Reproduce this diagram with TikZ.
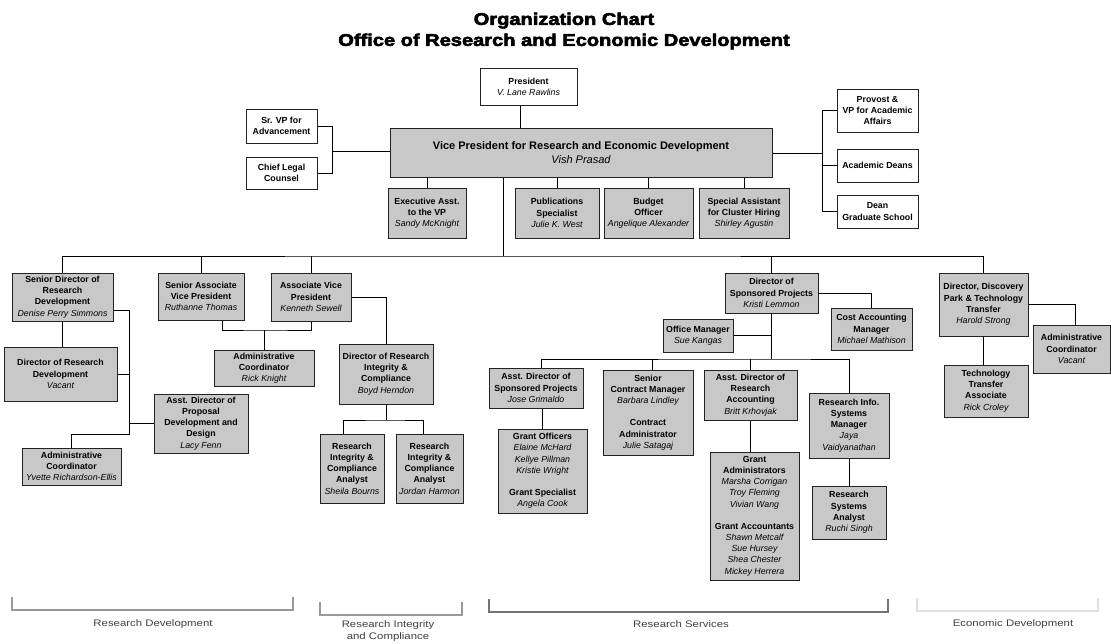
\documentclass[tikz,border=0pt]{standalone}
\usepackage{fontspec}
\setmainfont{Liberation Sans}
\newfontfamily\titlefont{Liberation Sans}[BoldFeatures={FakeBold=3}]
\usetikzlibrary{calc}
\definecolor{boxgray}{RGB}{200,200,200}
\definecolor{edgec}{RGB}{35,35,35}
\newcommand\pname[1]{{\mdseries\itshape #1}}
\newcommand\orgbox[7]{\node[#2, minimum width={(#5-#3)*1pt}, minimum height={(#6-#4)*1pt}] (#1) at ({(#3+#5)/2},{(#4+#6)/2}) {#7};}
\begin{document}
\begin{tikzpicture}[x=1pt,y=-1pt,
  base/.style={draw=edgec, line width=1pt, align=center, inner sep=1pt,
    font=\fontsize{8.8}{11.2}\selectfont\bfseries},
  gbox/.style={base, fill=boxgray},
  wbox/.style={base, fill=white},
  link/.style={line width=0.9pt, draw=black},
  brk/.style={line width=1.8pt, draw=#1},
  lbl/.style={font=\fontsize{9.5}{12}\selectfont, text=black!75, align=center}
]
\useasboundingbox[fill=white] (0,0) rectangle (1111,643);

% title
\node[align=center, font=\titlefont\bfseries\fontsize{17}{21}\selectfont] (title) at (564,31)
  {\scalebox{1.18}[1]{Organization Chart}\\\scalebox{1.18}[1]{Office of Research and Economic Development}};

% top level
\orgbox{pres}{wbox}{480}{68}{577}{105}{President\\\pname{V. Lane Rawlins}}
\node[gbox, font=\fontsize{11}{13.5}\selectfont\bfseries, minimum width=382pt, minimum height=49pt] (vp) at (581,152.5)
  {Vice President for Research and Economic Development\\\pname{Vish Prasad}};
\orgbox{srvp}{wbox}{246}{109}{317}{143}{Sr. VP for\\Advancement}
\orgbox{legal}{wbox}{246}{157}{317}{189}{Chief Legal\\Counsel}
\orgbox{provost}{wbox}{837}{89}{918}{132}{Provost \&\\VP for Academic\\Affairs}
\orgbox{deans}{wbox}{837}{149}{918}{182}{Academic Deans}
\orgbox{gdean}{wbox}{837}{195}{918}{228}{Dean\\Graduate School}
\orgbox{exec}{gbox}{388}{188}{466}{238}{Executive Asst.\\to the VP\\\pname{Sandy McKnight}}
\orgbox{pub}{gbox}{515}{188}{599}{238}{Publications\\Specialist\\\pname{Julie K. West}}
\orgbox{budget}{gbox}{604}{188}{693}{238}{Budget\\Officer\\\pname{Angelique Alexander}}
\orgbox{special}{gbox}{699}{188}{789}{238}{Special Assistant\\for Cluster Hiring\\\pname{Shirley Agustin}}

% research development
\orgbox{sdrd}{gbox}{12}{273}{113}{321}{Senior Director of\\Research\\Development\\\pname{Denise Perry Simmons}}
\orgbox{drd}{gbox}{4}{347}{117}{401}{Director of Research\\Development\\\pname{Vacant}}
\orgbox{adpd}{gbox}{154}{394}{248}{453}{Asst. Director of\\Proposal\\Development and\\Design\\\pname{Lacy Fenn}}
\orgbox{yvette}{gbox}{22}{448}{121}{485}{Administrative\\Coordinator\\\pname{Yvette Richardson-Ellis}}

% research integrity
\orgbox{sav}{gbox}{158}{273}{244}{320}{Senior Associate\\Vice President\\\pname{Ruthanne Thomas}}
\orgbox{avp}{gbox}{271}{273}{351}{321}{Associate Vice\\President\\\pname{Kenneth Sewell}}
\orgbox{rick}{gbox}{214}{350}{314}{386}{Administrative\\Coordinator\\\pname{Rick Knight}}
\orgbox{dric}{gbox}{339}{344}{433}{404}{Director of Research\\Integrity \&\\Compliance\\\pname{Boyd Herndon}}
\orgbox{sheila}{gbox}{320}{434}{384}{503}{Research\\Integrity \&\\Compliance\\Analyst\\\pname{Sheila Bourns}}
\orgbox{jordan}{gbox}{396}{434}{463}{503}{Research\\Integrity \&\\Compliance\\Analyst\\\pname{Jordan Harmon}}

% research services
\orgbox{dsp}{gbox}{725}{273}{818}{313}{Director of\\Sponsored Projects\\\pname{Kristi Lemmon}}
\orgbox{cam}{gbox}{831}{308}{912}{350}{Cost Accounting\\Manager\\\pname{Michael Mathison}}
\orgbox{om}{gbox}{663}{319}{733}{352}{Office Manager\\\pname{Sue Kangas}}
\orgbox{adsp}{gbox}{489}{368}{583}{408}{Asst. Director of\\Sponsored Projects\\\pname{Jose Grimaldo}}
\orgbox{scm}{gbox}{603}{370}{693}{455}{Senior\\Contract Manager\\\pname{Barbara Lindley}\\[11pt]Contract\\Administrator\\\pname{Julie Satagaj}}
\orgbox{adra}{gbox}{704}{370}{797}{420}{Asst. Director of\\Research\\Accounting\\\pname{Britt Krhovjak}}
\orgbox{rism}{gbox}{809}{393}{889}{458}{Research Info.\\Systems\\Manager\\\pname{Jaya}\\\pname{Vaidyanathan}}
\orgbox{go}{gbox}{498}{429}{587}{513}{Grant Officers\\\pname{Elaine McHard}\\\pname{Kellye Pillman}\\\pname{Kristie Wright}\\[11pt]Grant Specialist\\\pname{Angela Cook}}
\orgbox{ga}{gbox}{710}{452}{799}{580}{Grant\\Administrators\\\pname{Marsha Corrigan}\\\pname{Troy Fleming}\\\pname{Vivian Wang}\\[11pt]Grant Accountants\\\pname{Shawn Metcalf}\\\pname{Sue Hursey}\\\pname{Shea Chester}\\\pname{Mickey Herrera}}
\orgbox{rsa}{gbox}{812}{486}{886}{539}{Research\\Systems\\Analyst\\\pname{Ruchi Singh}}

% economic development
\orgbox{ddpt}{gbox}{939}{273}{1028}{336}{Director, Discovery\\Park \& Technology\\Transfer\\\pname{Harold Strong}}
\orgbox{acv}{gbox}{1033}{325}{1110}{373}{Administrative\\Coordinator\\\pname{Vacant}}
\orgbox{tta}{gbox}{944}{365}{1028}{417}{Technology\\Transfer\\Associate\\\pname{Rick Croley}}

% ---- connectors, top
\coordinate (pv) at (520,0);
\draw[link] (pv |- pres.south) -- (pv |- vp.north);
\coordinate (lj) at (332,151);
\draw[link] (srvp.east) -| (lj);
\draw[link] (legal.east) -| (lj);
\draw[link] (lj) -- (lj -| vp.west);
\coordinate (rj) at (822,153);
\draw[link] (rj -| vp.east) -- (rj);
\draw[link] (provost.west) -| (rj);
\draw[link] (deans.west) -| (rj);
\draw[link] (gdean.west) -| (rj);
\foreach \n in {exec,pub,budget,special} \draw[link] (\n.north) -- (\n.north |- vp.south);

% main bus
\coordinate (mv) at (503,256);
\draw[link] (mv |- vp.south) -- (mv);
\draw[link] (sdrd.north) |- (mv) -| (ddpt.north);
\foreach \n in {sav,avp,dsp} \draw[link] (\n.north) -- (\n.north |- mv);

% research development
\draw[link] (sdrd.south) -- (sdrd.south |- drd.north);
\coordinate (rdj) at (129,434);
\draw[link] ([yshift=-13pt]sdrd.east) -| (rdj) -| (yvette.north);
\draw[link] (drd.east) -- (drd.east -| rdj);
\draw[link] (adpd.west) -- (adpd.west -| rdj);

% research integrity
\coordinate (sj) at (264,330);
\draw[link] ([xshift=21pt]sav.south) |- (sj) -| (avp.south);
\draw[link] (rick.north) -- (rick.north |- sj);
\draw[link] (avp.east) -| (dric.north);
\coordinate (aj) at (387,420);
\draw[link] (dric.south) -- (dric.south |- aj);
\draw[link] ([xshift=-9pt]sheila.north) |- (aj) -| ([xshift=-6pt]jordan.north);

% research services
\draw[link] (dsp.east) -| (cam.north);
\coordinate (sb) at (773,359);
\draw[link] (dsp.south) -- (dsp.south |- sb);
\draw[link] (om.east) -- (om.east -| dsp.south);
\draw[link] ([xshift=5pt]adsp.north) |- (sb) -| (rism.north);
\draw[link] ([xshift=4pt]scm.north) -- ([xshift=4pt]scm.north |- sb);
\draw[link] (adra.north) -- (adra.north |- sb);
\draw[link] (go.north) -- (go.north |- adsp.south);
\draw[link] (adra.south) -- (adra.south |- ga.north);
\draw[link] (rism.south) -- (rism.south |- rsa.north);

% economic development
\draw[link] (ddpt.east) -| ([xshift=4pt]acv.north);
\draw[link] (ddpt.south) -- (ddpt.south |- tta.north);

% ---- bottom brackets
\draw[brk=black!40] (12,597) -- (12,610) -- (293,610) -- (293,597);
\draw[brk=black!40] (320,602) -- (320,615) -- (462,615) -- (462,602);
\draw[brk=black!55] (489,599) -- (489,612) -- (888,612) -- (888,599);
\draw[brk=black!12] (917,598) -- (917,611) -- (1098,611) -- (1098,598);
\node[lbl] (lrd) at (153,624) {\scalebox{1.2}[1]{Research Development}};
\node[lbl] (lric) at (388,631) {\scalebox{1.2}[1]{Research Integrity}\\\scalebox{1.2}[1]{and Compliance}};
\node[lbl] (lrs) at (681,624) {\scalebox{1.2}[1]{Research Services}};
\node[lbl] (led) at (1013,624) {\scalebox{1.2}[1]{Economic Development}};
\end{tikzpicture}
\end{document}
